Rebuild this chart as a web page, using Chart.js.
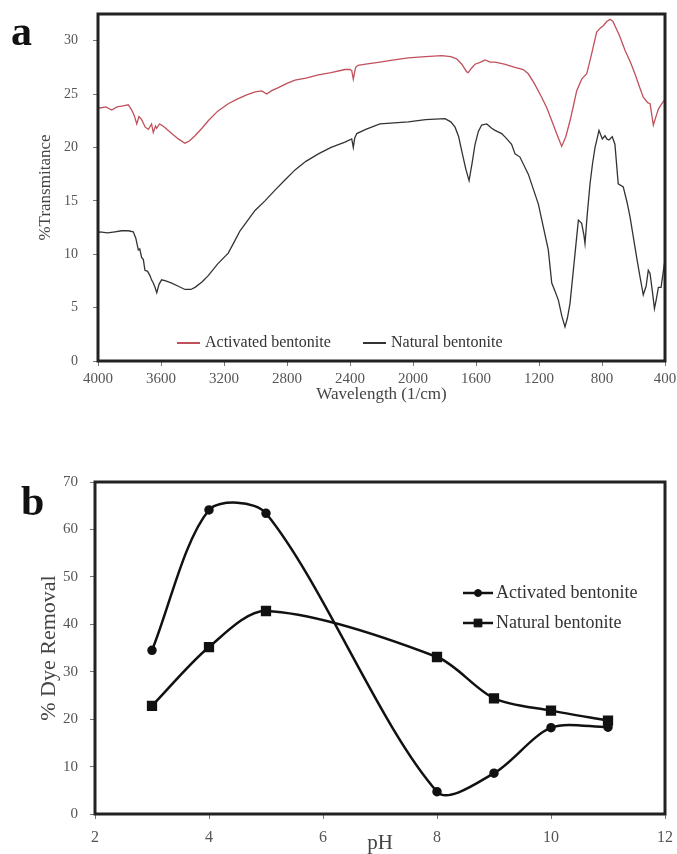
<!DOCTYPE html>
<html>
<head>
  <title>Bentonite FTIR spectra and dye removal vs pH</title>
  <script src="https://cdn.jsdelivr.net/npm/chart.js"></script>
  <style>
    body { margin: 0; background: #fff; }
    #wrap { position: relative; width: 677px; height: 854px; }
    canvas { position: absolute; left: 0; }
    #ftir { top: 0; }
    #ph { top: 440px; }
    .tag { position: absolute; font: bold 42px "Liberation Serif", serif; line-height: 1; color: #111; }
  </style>
</head>
<body>
<div id="wrap">
  <canvas id="ftir" width="677" height="410"></canvas>
  <canvas id="ph" width="677" height="414"></canvas>
  <div class="tag" style="left:11px;top:10px">a</div>
  <div class="tag" style="left:21px;top:480px">b</div>
</div>
<script>
  // Panel a: FTIR spectra (wavenumber in 1/cm, %T)
  const activatedWn = [4000, 3987, 3950, 3913, 3880, 3840, 3808, 3786, 3770, 3754, 3740, 3723, 3700, 3680, 3660, 3649, 3635, 3627, 3610, 3596, 3570, 3532, 3490, 3448, 3420, 3384, 3340, 3300, 3240, 3173, 3120, 3060, 3003, 2960, 2929, 2900, 2855, 2800, 2749, 2680, 2601, 2520, 2432, 2400, 2389, 2379, 2370, 2364, 2349, 2300, 2210, 2120, 2030, 1920, 1818, 1760, 1723, 1690, 1660, 1649, 1630, 1606, 1570, 1543, 1510, 1479, 1420, 1352, 1300, 1268, 1230, 1183, 1150, 1119, 1085, 1056, 1030, 1003, 980, 961, 929, 897, 870, 834, 810, 792, 770, 749, 730, 718, 690, 654, 620, 591, 560, 538, 510, 495, 474, 455, 442, 420, 400];
  const activatedT = [23.8, 23.7, 23.8, 23.5, 23.8, 23.9, 24.0, 23.5, 23.0, 22.2, 22.9, 22.6, 21.9, 21.7, 22.2, 21.4, 22.0, 21.8, 22.2, 22.1, 21.8, 21.3, 20.8, 20.4, 20.6, 21.1, 21.8, 22.5, 23.4, 24.1, 24.5, 24.9, 25.2, 25.3, 25.0, 25.3, 25.6, 26.0, 26.3, 26.5, 26.8, 27.0, 27.3, 27.3, 27.2, 26.4, 27.1, 27.5, 27.7, 27.8, 28.0, 28.2, 28.4, 28.5, 28.6, 28.5, 28.3, 27.8, 27.1, 27.0, 27.4, 27.8, 28.0, 28.2, 28.0, 28.0, 27.8, 27.5, 27.3, 26.9, 26.0, 24.7, 23.7, 22.5, 21.2, 20.1, 21.0, 22.5, 24.0, 25.3, 26.4, 26.9, 28.5, 30.8, 31.2, 31.4, 31.8, 32.0, 31.8, 31.4, 30.5, 29.1, 28.0, 26.9, 25.6, 24.7, 24.2, 24.1, 22.1, 23.0, 23.6, 24.1, 24.5];

  const naturalWn = [4000, 3987, 3940, 3892, 3850, 3808, 3776, 3760, 3744, 3735, 3723, 3712, 3702, 3685, 3670, 3660, 3649, 3638, 3627, 3612, 3596, 3570, 3532, 3490, 3448, 3410, 3384, 3340, 3300, 3240, 3173, 3130, 3098, 3003, 2940, 2876, 2810, 2749, 2680, 2601, 2520, 2432, 2389, 2379, 2370, 2357, 2300, 2210, 2120, 2030, 1920, 1797, 1760, 1733, 1710, 1691, 1665, 1644, 1625, 1606, 1585, 1564, 1532, 1500, 1479, 1437, 1410, 1374, 1352, 1321, 1268, 1204, 1141, 1119, 1100, 1077, 1055, 1035, 1020, 1003, 971, 950, 929, 915, 908, 895, 876, 860, 844, 819, 798, 781, 770, 756, 735, 718, 697, 665, 640, 622, 580, 560, 538, 520, 506, 495, 480, 467, 455, 442, 425, 404, 400];
  const naturalT = [12.0, 12.1, 12.0, 12.1, 12.2, 12.2, 12.1, 11.5, 10.4, 10.5, 9.7, 9.5, 8.5, 8.4, 8.0, 7.6, 7.3, 6.9, 6.4, 7.2, 7.6, 7.5, 7.3, 7.0, 6.7, 6.7, 6.9, 7.4, 8.0, 9.1, 10.1, 11.3, 12.2, 14.1, 15.0, 16.0, 17.0, 17.9, 18.7, 19.4, 20.0, 20.5, 20.8, 20.0, 20.9, 21.3, 21.7, 22.2, 22.3, 22.4, 22.6, 22.7, 22.4, 21.9, 21.0, 19.7, 18.0, 16.9, 18.5, 20.3, 21.5, 22.1, 22.2, 21.8, 21.6, 21.3, 20.9, 20.3, 19.4, 19.1, 17.5, 14.7, 10.4, 7.3, 6.6, 5.7, 4.2, 3.2, 4.0, 5.4, 10.1, 13.2, 12.9, 11.8, 11.0, 13.5, 16.6, 18.5, 20.0, 21.6, 20.8, 21.1, 20.8, 20.7, 21.0, 20.3, 16.6, 16.3, 14.8, 13.5, 9.7, 8.0, 6.2, 7.0, 8.5, 8.2, 6.5, 4.9, 5.8, 6.9, 6.9, 9.1, 9.3];

  // Panel b: % dye removal against pH
  const pHValues = [3, 4, 5, 8, 9, 10, 11];
  const activatedRemoval = [34.5, 64.1, 63.4, 4.7, 8.6, 18.2, 18.3];
  const naturalRemoval = [22.8, 35.2, 42.8, 33.1, 24.4, 21.8, 19.7];

  const pairs = (xs, ys) => xs.map((x, i) => ({ x: x, y: ys[i] }));
  const serif = '"Liberation Serif", "Times New Roman", serif';

  // thick box round the plot area
  const frame = {
    id: 'frame',
    afterDatasetsDraw(chart) {
      const { ctx, chartArea: a } = chart;
      ctx.save();
      ctx.strokeStyle = '#222';
      ctx.lineWidth = 3;
      ctx.strokeRect(a.left, a.top, a.right - a.left, a.bottom - a.top);
      ctx.restore();
    }
  };

  // legend drawn inside the plot area, from the dataset styles
  const boxLegend = {
    id: 'boxLegend',
    afterDraw(chart, args, opts) {
      const ctx = chart.ctx;
      ctx.save();
      ctx.font = opts.font;
      ctx.textBaseline = 'middle';
      opts.items.forEach((it, i) => {
        const ds = chart.data.datasets[i];
        ctx.strokeStyle = ds.borderColor;
        ctx.lineWidth = opts.lineWidth;
        ctx.beginPath();
        ctx.moveTo(it.x, it.y);
        ctx.lineTo(it.x + opts.lineLen, it.y);
        ctx.stroke();
        if (opts.markers) {
          ctx.fillStyle = ds.pointBackgroundColor;
          ctx.lineWidth = 1;
          Chart.helpers.drawPoint(ctx, { pointStyle: ds.pointStyle, radius: ds.pointRadius, borderWidth: 1 }, it.x + opts.lineLen / 2, it.y);
        }
        ctx.fillStyle = '#333';
        ctx.fillText(ds.label, it.x + opts.lineLen + opts.gap, it.y);
      });
      ctx.restore();
    }
  };

  const fixWidth = w => scale => { scale.width = w; scale.paddingTop = 0; scale.paddingBottom = 0; };
  const fixHeight = h => scale => { scale.height = h; scale.paddingLeft = 0; scale.paddingRight = 0; };

  new Chart(document.getElementById('ftir'), {
    type: 'line',
    data: {
      datasets: [
        { label: 'Activated bentonite', data: pairs(activatedWn, activatedT), borderColor: '#c0505a', borderWidth: 1.3, pointRadius: 0, tension: 0 },
        { label: 'Natural bentonite', data: pairs(naturalWn, naturalT), borderColor: '#333', borderWidth: 1.3, pointRadius: 0, tension: 0 }
      ]
    },
    options: {
      responsive: false,
      animation: false,
      devicePixelRatio: 1,
      layout: { padding: { left: 0, right: 12, top: 14, bottom: 0 } },
      plugins: {
        legend: { display: false },
        tooltip: { enabled: false },
        boxLegend: {
          font: '16px ' + serif,
          lineLen: 23, gap: 5, lineWidth: 2, markers: false,
          items: [{ x: 177, y: 343 }, { x: 363, y: 343 }]
        }
      },
      scales: {
        x: {
          type: 'linear', reverse: true, min: 400, max: 4000,
          afterFit: fixHeight(49),
          border: { display: false },
          grid: { drawOnChartArea: false, tickLength: 5, color: '#777' },
          ticks: { stepSize: 400, padding: 4, color: '#555', font: { family: serif, size: 15 }, maxRotation: 0, autoSkip: false, callback: v => String(v) },
          title: { display: true, text: 'Wavelength (1/cm)', color: '#444', font: { family: serif, size: 17, lineHeight: 1 }, padding: { top: 0, bottom: 7 } }
        },
        y: {
          min: 0, max: 32.5,
          afterFit: fixWidth(98),
          afterBuildTicks: s => { s.ticks = s.ticks.filter(t => t.value % 5 === 0); },
          border: { display: false },
          grid: { drawOnChartArea: false, tickLength: 5, color: '#777' },
          ticks: { stepSize: 5, padding: 15, color: '#555', font: { family: serif, size: 14 } },
          title: { display: true, text: '%Transmitance', color: '#444', font: { family: serif, size: 17, lineHeight: 1 }, padding: { top: 37, bottom: 0 } }
        }
      }
    },
    plugins: [frame, boxLegend]
  });

  new Chart(document.getElementById('ph'), {
    type: 'line',
    data: {
      datasets: [
        { label: 'Activated bentonite', data: pairs(pHValues, activatedRemoval), borderColor: '#111', borderWidth: 2.5, pointStyle: 'circle', pointRadius: 3.5, pointBackgroundColor: '#111', pointBorderColor: '#111', tension: 0.3 },
        { label: 'Natural bentonite', data: pairs(pHValues, naturalRemoval), borderColor: '#111', borderWidth: 2.5, pointStyle: 'rect', pointRadius: 5.5, pointBackgroundColor: '#111', pointBorderColor: '#111', tension: 0.3 }
      ]
    },
    options: {
      responsive: false,
      animation: false,
      devicePixelRatio: 1,
      layout: { padding: { left: 0, right: 12, top: 42, bottom: 0 } },
      plugins: {
        legend: { display: false },
        tooltip: { enabled: false },
        boxLegend: {
          font: '18px ' + serif,
          lineLen: 30, gap: 3, lineWidth: 2.5, markers: true,
          items: [{ x: 463, y: 153 }, { x: 463, y: 183 }]
        }
      },
      scales: {
        x: {
          type: 'linear', min: 2, max: 12,
          afterFit: fixHeight(40),
          border: { display: false },
          grid: { drawOnChartArea: false, tickLength: 5, color: '#777' },
          ticks: { stepSize: 2, padding: 9, color: '#555', font: { family: serif, size: 16 }, maxRotation: 0 },
          title: { display: true, text: 'pH', color: '#444', font: { family: serif, size: 21, lineHeight: 1 }, padding: { top: 0, bottom: 0 } }
        },
        y: {
          min: 0, max: 70,
          afterFit: fixWidth(95),
          border: { display: false },
          grid: { drawOnChartArea: false, tickLength: 5, color: '#777' },
          ticks: { stepSize: 10, padding: 12, color: '#555', font: { family: serif, size: 15 } },
          title: { display: true, text: '% Dye Removal', color: '#444', font: { family: serif, size: 22, lineHeight: 1 }, padding: { top: 38, bottom: 0 } }
        }
      }
    },
    plugins: [frame, boxLegend]
  });
</script>
</body>
</html>
